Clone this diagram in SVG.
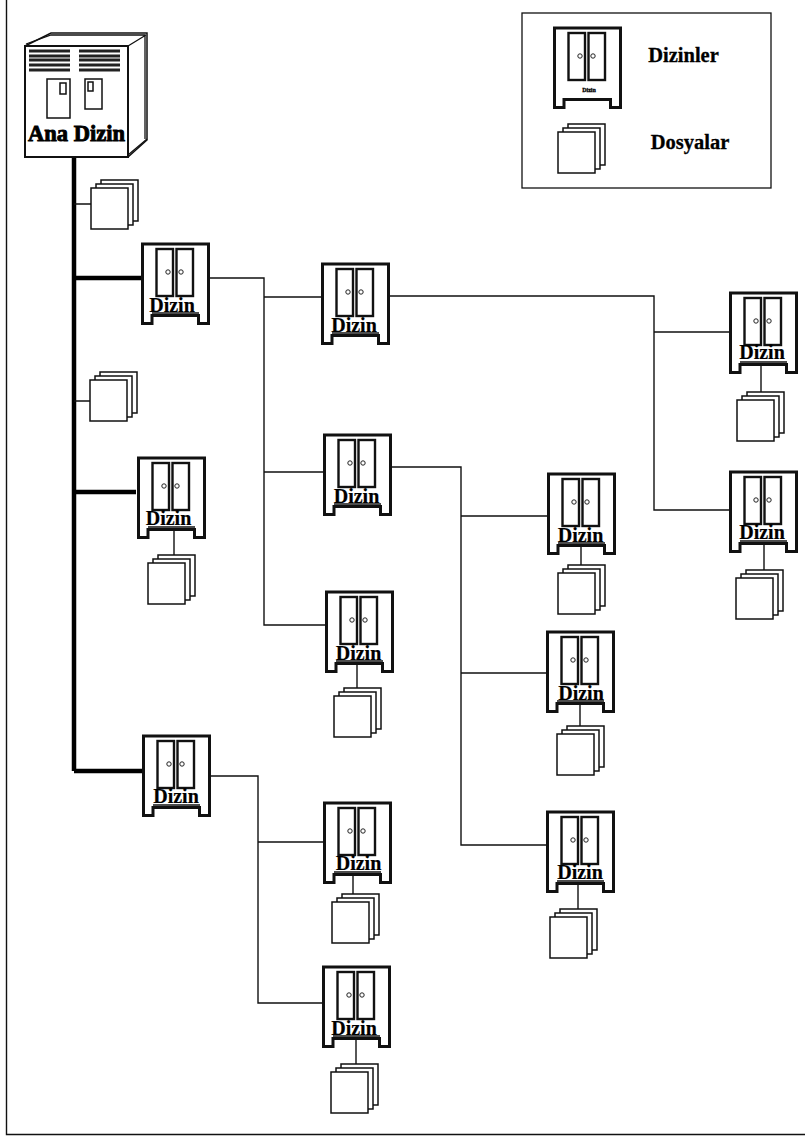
<svg xmlns="http://www.w3.org/2000/svg" width="805" height="1136" viewBox="0 0 805 1136">
<style>
.bg{fill:#fff}
.l{fill:none;stroke:#111;stroke-width:1.4}
.t{fill:none;stroke:#000;stroke-width:4.5}
.f{fill:#fff;stroke:#111;stroke-width:1.5}
.w{fill:none;stroke:#111;stroke-width:3}
.e{fill:#fff;stroke:#111;stroke-width:2.4}
.k{fill:#fff;stroke:#222;stroke-width:1}
.s{font-family:"Liberation Serif","Times New Roman",serif;font-weight:700;fill:#000;text-anchor:middle}
.d{font-size:20px;stroke:#000;stroke-width:.2}
.h{font-size:20.5px;stroke:#000;stroke-width:.3}
.a{font-size:22.5px;stroke:#000;stroke-width:.9}
.v{stroke:#222;stroke-width:2.8;fill:none}
</style>
<defs>
<g id="door-base">
<path d="M0,1H69" class="w"/>
<path d="M1.500,0V80.500H11V72.500H57.500V80.500H67.500V0" class="w"/>
<rect x="15.500" y="6" width="16.500" height="47" class="e"/>
<rect x="35.500" y="6" width="16.500" height="47" class="e"/>
<circle cx="27" cy="29" r="2.200" class="k"/>
<circle cx="40" cy="29" r="2.200" class="k"/>
</g>
<g id="door-shape">
<use href="#door-base"/>
<path d="M11,70H58" class="l" stroke-width="1"/>
</g>
<g id="files">
<rect x="10" y="-8" width="37" height="41" class="f"/>
<rect x="5" y="-4" width="37" height="41" class="f"/>
<rect x="0" y="0" width="37" height="41" class="f"/>
</g>
</defs>
<rect class="bg" width="805" height="1136"/>
<path id="frame" d="M6.500,0V1134.500H805" fill="none" stroke="#111" stroke-width="1.400"/>

<g id="connectors">
<path class="t" d="M74,157V771M74,278H141M74,492H136M74,771H145"/>
<path class="l" d="M74,204H91M74,401H90"/>
<path class="l" d="M210,278H264V625H325M264,297H321M264,472H323"/>
<path class="l" d="M389,296H654V332H729M654,332V510H729"/>
<path class="l" d="M392,467H461V845H546M461,516H547M461,673H546"/>
<path class="l" d="M210,776H258V1003H322M258,842H323"/>
<path class="l" d="M174,529V555M357,663V688M761,364V392M764,543V570M581,545V565M580,703V727M578,883V909M353,874V894M356,1038V1064"/>
</g>

<g id="root">
<path d="M25,46L51,33H147V140L128,157H25Z" fill="#fff" stroke="#111" stroke-width="1.500"/>
<path d="M26,44L51,35H145V139M128,46L146,35M128,155L147,139" fill="none" stroke="#111" stroke-width="1.300"/>
<rect x="25" y="46" width="103" height="111" fill="#fff" stroke="#111" stroke-width="2"/>
<path class="v" d="M29,51H70M29,56H70M29,60H70M29,65H70M29,70H70M79,51H120M79,56H120M79,60H120M79,65H120M79,70H120"/>
<rect x="47" y="79" width="23" height="39" class="e" style="stroke-width:1.500"/>
<rect x="60" y="83" width="6" height="11" class="e" style="stroke-width:1.500"/>
<rect x="85" y="79" width="17" height="30" class="e" style="stroke-width:1.500"/>
<rect x="88" y="82" width="5" height="9" class="e" style="stroke-width:1.500"/>
<text class="s a" x="76.500" y="141">Ana Dizin</text>
</g>

<g id="legend">
<rect x="522" y="13" width="249" height="175" fill="#fff" stroke="#111" stroke-width="1.300"/>
<use href="#door-base" x="553" y="27"/>
<text class="s" x="589" y="92" font-size="6" stroke="#000" stroke-width=".3">Dizin</text>
<text class="s h" x="683.500" y="62">Dizinler</text>
<use href="#files" x="558" y="132"/>
<text class="s h" x="690" y="149">Dosyalar</text>
</g>

<g id="files-root-1"><use href="#files" x="91" y="188"/></g>
<g id="files-root-2"><use href="#files" x="90" y="380"/></g>

<g id="door-1"><use href="#door-shape" x="141" y="243"/><text class="s d" x="172" y="312">Dizin</text></g>
<g id="door-2"><use href="#door-shape" x="321" y="263"/><text class="s d" x="354" y="332">Dizin</text></g>
<g id="door-3"><use href="#door-shape" x="323" y="434"/><text class="s d" x="356.500" y="503">Dizin</text></g>
<g id="door-4"><use href="#door-shape" x="325" y="591"/><text class="s d" x="358.500" y="660">Dizin</text><use href="#files" x="334" y="696"/></g>
<g id="door-5"><use href="#door-shape" x="137" y="457"/><text class="s d" x="168.500" y="525">Dizin</text><use href="#files" x="148" y="563"/></g>
<g id="door-6"><use href="#door-shape" x="142" y="735"/><text class="s d" x="176" y="803">Dizin</text></g>
<g id="door-7"><use href="#door-shape" x="323" y="802"/><text class="s d" x="358.500" y="870">Dizin</text><use href="#files" x="332" y="902"/></g>
<g id="door-8"><use href="#door-shape" x="322" y="966"/><text class="s d" x="354" y="1035">Dizin</text><use href="#files" x="331" y="1072"/></g>
<g id="door-9"><use href="#door-shape" x="547" y="473"/><text class="s d" x="580.500" y="541.500">Dizin</text><use href="#files" x="558" y="573"/></g>
<g id="door-10"><use href="#door-shape" x="546" y="631"/><text class="s d" x="581" y="699.500">Dizin</text><use href="#files" x="557" y="734"/></g>
<g id="door-11"><use href="#door-shape" x="546" y="811"/><text class="s d" x="580" y="879">Dizin</text><use href="#files" x="550" y="917"/></g>
<g id="door-12"><use href="#door-shape" x="729" y="292"/><text class="s d" x="762" y="359">Dizin</text><use href="#files" x="737" y="400"/></g>
<g id="door-13"><use href="#door-shape" x="729" y="471"/><text class="s d" x="762" y="539">Dizin</text><use href="#files" x="736" y="578"/></g>
</svg>
